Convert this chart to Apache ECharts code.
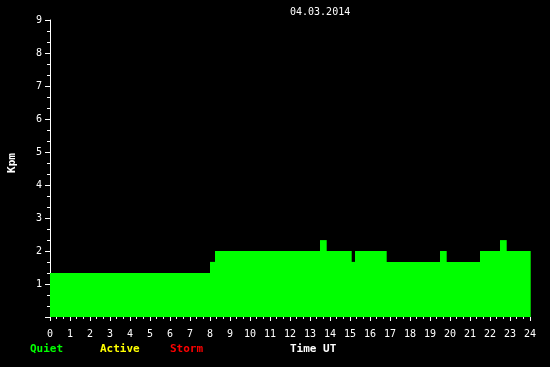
<!DOCTYPE html>
<html><head><meta charset="utf-8">
<script src="https://cdn.jsdelivr.net/npm/echarts@6/dist/echarts.min.js"></script>
<style>html,body{margin:0;padding:0;background:#000}#c{width:550px;height:367px}</style>
</head><body><div id="c"></div>
<script>
const segStart = [0, 8, 8.25, 13.5, 13.8, 15.05, 15.25, 16.8, 19.5, 19.8, 21.5, 22.5, 22.8];
const segEnd   = [8, 8.25, 13.5, 13.8, 15.05, 15.25, 16.8, 19.5, 19.8, 21.5, 22.5, 22.8, 24];
const kpm      = [1.33, 1.67, 2, 2.33, 2, 1.67, 2, 1.67, 2, 1.67, 2, 2.33, 2];
const title = '04.03.2014';
const legendItems = ['Quiet', 'Active', 'Storm'];
const xName = 'Time UT';
const yName = 'Kpm';

const data = segStart.map((s, i) => [s, segEnd[i], kpm[i]]);
const font = 'DejaVu Sans Mono';
const chart = echarts.init(document.getElementById('c'));
chart.setOption({
  backgroundColor: '#000',
  animation: false,
  grid: {left: 50, right: 20, top: 20, bottom: 50, containLabel: false, outerBoundsMode: 'none'},
  xAxis: {
    type: 'value', min: 0, max: 24, interval: 1,
    axisLine: {show: false},
    axisTick: {show: true, length: 4, lineStyle: {color: '#fff'}},
    minorTick: {show: true, splitNumber: 3, length: 2, lineStyle: {color: '#fff'}},
    axisLabel: {color: '#fff', fontFamily: font, fontSize: 10, margin: 12},
    splitLine: {show: false}
  },
  yAxis: {
    type: 'value', min: 0, max: 9, interval: 1,
    axisLine: {show: true, lineStyle: {color: '#fff'}},
    axisTick: {show: true, length: 5, lineStyle: {color: '#fff'}},
    minorTick: {show: true, splitNumber: 3, length: 3, lineStyle: {color: '#fff'}},
    axisLabel: {color: '#fff', fontFamily: font, fontSize: 10, margin: 8,
      formatter: v => v === 0 ? '' : String(v)},
    splitLine: {show: false}
  },
  series: [{
    type: 'custom',
    data: data,
    encode: {x: [0, 1], y: 2},
    renderItem: function (params, api) {
      const p0 = api.coord([api.value(0), api.value(2)]);
      const p1 = api.coord([api.value(1), 0]);
      return {type: 'rect', shape: {x: p0[0], y: p0[1], width: p1[0] - p0[0] + 0.7, height: p1[1] - p0[1]},
        style: {fill: '#00ff00'}};
    }
  }],
  graphic: [
    {type: 'text', left: 290, top: 7, style: {text: title, fill: '#fff', font: '10px ' + font}},
    {type: 'text', x: 12, y: 163, rotation: Math.PI / 2,
      style: {text: yName, fill: '#fff', font: 'bold 11px ' + font, align: 'center', verticalAlign: 'middle'}},
    {type: 'text', left: 30, top: 344, style: {text: legendItems[0], fill: '#00ff00', font: 'bold 11px ' + font}},
    {type: 'text', left: 100, top: 344, style: {text: legendItems[1], fill: '#ffff00', font: 'bold 11px ' + font}},
    {type: 'text', left: 170, top: 344, style: {text: legendItems[2], fill: '#ff0000', font: 'bold 11px ' + font}},
    {type: 'text', left: 290, top: 344, style: {text: xName, fill: '#fff', font: 'bold 11px ' + font}}
  ]
});
</script></body></html>
